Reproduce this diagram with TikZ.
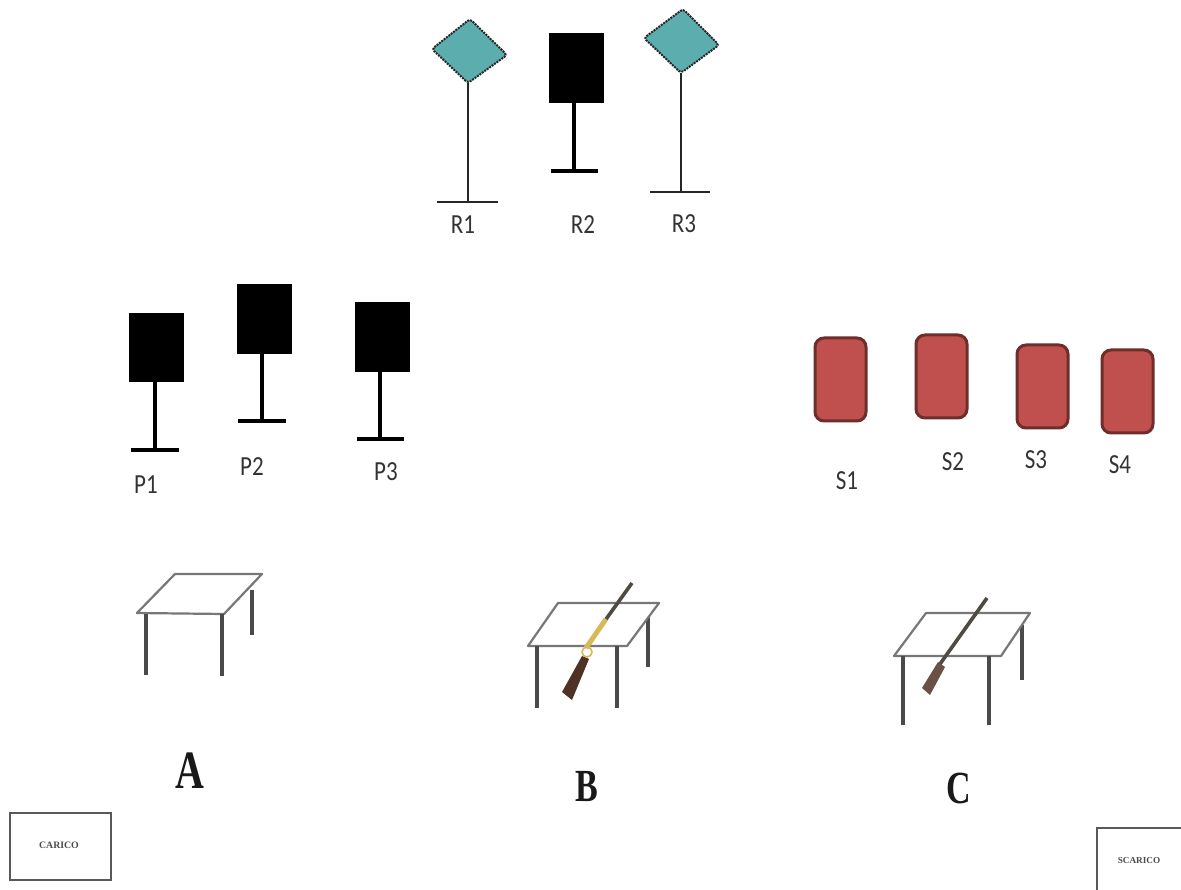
\documentclass[tikz,border=0pt]{standalone}
\usepackage{fontspec}
\setmainfont{Carlito}
\newfontfamily\serifbold{Liberation Serif}
\definecolor{signteal}{HTML}{5CADAE}
\definecolor{signred}{HTML}{C0504D}
\definecolor{signredline}{HTML}{6E2E2B}
\definecolor{tablegrey}{HTML}{4A4A4A}
\definecolor{goldbody}{HTML}{D8B95A}
\definecolor{stockbrown}{HTML}{4E3324}
\definecolor{barrelgrey}{HTML}{4F4A42}
\tikzset{
  thinpole/.style={draw=black!85,line width=2pt},
  thickpole/.style={draw=black,line width=3.8pt},
  blackboard/.style={fill=black,draw=black,line width=.5pt},
  tealsign/.style={fill=signteal,draw=black!85,line width=2pt,densely dotted,rounded corners=3pt},
  redsign/.style={fill=signred,draw=signredline,line width=3pt,rounded corners=9pt},
  tabletop/.style={draw=tablegrey!75,line width=2.2pt,fill=white,line join=round},
  tableleg/.style={draw=tablegrey,line width=3.2pt},
  lab/.style={inner sep=0pt,text=black!80,font=\fontsize{23}{26}\selectfont,yscale=1.2},
  biglab/.style={inner sep=0pt,text=black!90,xscale=.74,font=\serifbold\bfseries\fontsize{54}{54}\selectfont},
  midlab/.style={inner sep=0pt,text=black!90,xscale=.74,font=\serifbold\bfseries\fontsize{46}{46}\selectfont},
  boxlab/.style={inner sep=0pt,text=black!70,font=\serifbold\bfseries\fontsize{9.8}{10}\selectfont},
  framebox/.style={draw=black!65,line width=2.2pt}
}
\begin{document}
\begin{tikzpicture}[x=1pt,y=-1pt]
\useasboundingbox[fill=white] (0,0) rectangle (1181,890);
% top row
\draw[tealsign] (432,49) -- (470,19) -- (507,55) -- (468,83) -- cycle;
\draw[thinpole] (468,83) -- (468,202);
\draw[thinpole] (437,202) -- (498,202);
\node[lab] (R1) at (463,225) {R1};
\draw[blackboard] (549,33) rectangle (603,102);
\draw[thickpole] (574,102) -- (574,171);
\draw[thickpole] (551,171) -- (598,171);
\node[lab] (R2) at (583,225) {R2};
\draw[tealsign] (644,38) -- (683,9) -- (719,45) -- (681,73) -- cycle;
\draw[thinpole] (681,73) -- (681,192);
\draw[thinpole] (650,192) -- (710,192);
\node[lab] (R3) at (684,224) {R3};
% P
\draw[blackboard] (129,313) rectangle (183,381);
\draw[thickpole] (155,381) -- (155,450);
\draw[thickpole] (131,450) -- (179,450);
\node[lab] (P1) at (146,485) {P1};
\draw[blackboard] (237,284) rectangle (291,353);
\draw[thickpole] (262,353) -- (262,421);
\draw[thickpole] (238,421) -- (286,421);
\node[lab] (P2) at (252,467) {P2};
\draw[blackboard] (355,302) rectangle (409,371);
\draw[thickpole] (380,371) -- (380,439);
\draw[thickpole] (357,439) -- (404,439);
\node[lab] (P3) at (386,472) {P3};
% S
\draw[redsign] (815,338) rectangle (866,421);
\draw[redsign] (916,335) rectangle (967,418);
\draw[redsign] (1017,345) rectangle (1068,428);
\draw[redsign] (1102,350) rectangle (1153,433);
\node[lab] (S1) at (847,481) {S1};
\node[lab] (S2) at (953,462) {S2};
\node[lab] (S3) at (1036,460) {S3};
\node[lab] (S4) at (1120,465) {S4};
% table A
\draw[tableleg] (252,590) -- (252,635);
\draw[tabletop] (137,613) -- (175,574) -- (262,574) -- (224,614) -- cycle;
\draw[tableleg] (146,614) -- (146,675);
\draw[tableleg] (222,614) -- (222,676);
\node[biglab] (A) at (190,771) {A};
% table B
\draw[tableleg] (648,617) -- (648,667);
\draw[tabletop] (528,646) -- (558,603) -- (659,603) -- (627,646) -- cycle;
\draw[tableleg] (537,646) -- (537,708);
\draw[tableleg] (617,646) -- (617,708);
\draw[barrelgrey,line width=3.6pt] (632,583) -- (604,622);
\draw[goldbody,line width=5pt] (606,619) -- (586,648);
\fill[stockbrown] (582,656) -- (589,659) -- (572,700) -- (562,692) -- cycle;
\draw[goldbody,line width=1.6pt] (587,652) circle (5pt);
\node[midlab] (B) at (587,787) {B};
% table C
\draw[tableleg] (1022,625) -- (1022,680);
\draw[tabletop] (894,656) -- (926,613) -- (1030,613) -- (1001,656) -- cycle;
\draw[tableleg] (903,656) -- (903,725);
\draw[tableleg] (989,656) -- (989,725);
\draw[barrelgrey,line width=3.6pt] (987,598) -- (940,664);
\fill[stockbrown!85!white] (938,662) -- (945,667) -- (930,695) -- (922,688) -- cycle;
\node[midlab] (C) at (959,788) {C};
% boxes
\draw[framebox] (10,813) rectangle (111,880);
\node[boxlab] (carico) at (59,845) {CARICO};
\draw[framebox] (1181,828) -- (1097,828) -- (1097,890);
\node[boxlab,font=\serifbold\bfseries\fontsize{9.2}{10}\selectfont] (scarico) at (1139,860) {SCARICO};
\end{tikzpicture}
\end{document}
